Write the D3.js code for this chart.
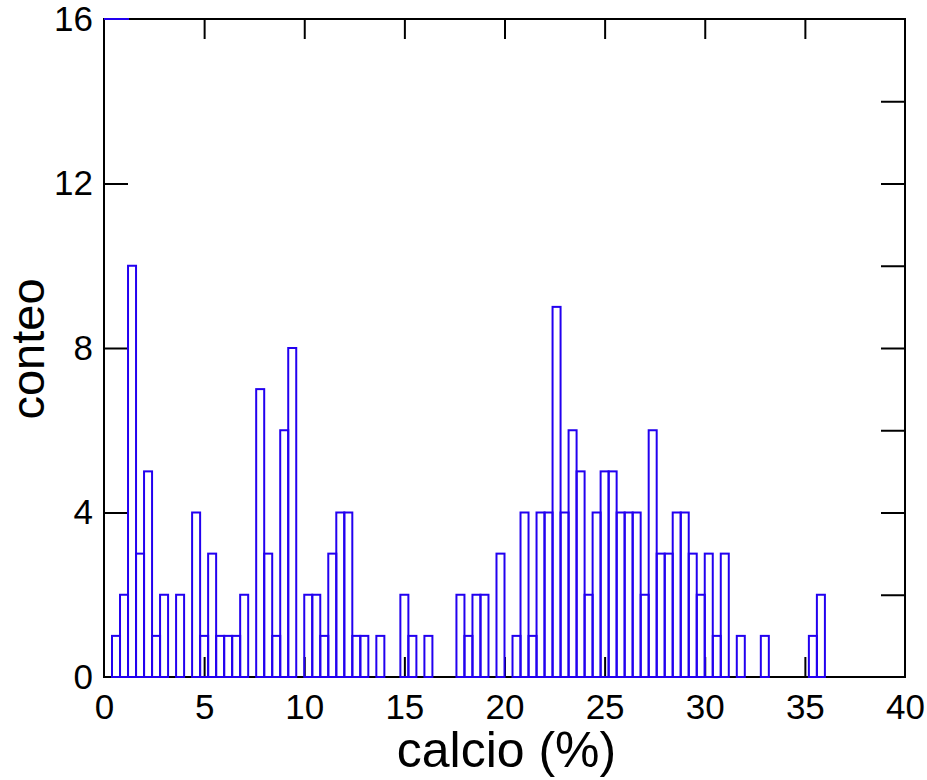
<!DOCTYPE html>
<html>
<head>
<meta charset="utf-8">
<script src="https://cdn.jsdelivr.net/npm/d3@7/dist/d3.min.js"></script>
<style>
  html, body { margin: 0; padding: 0; background: #fff; }
  svg { display: block; }
  text { font-family: "Liberation Sans", Arial, sans-serif; fill: #000; }
</style>
</head>
<body>
<svg id="chart" width="927" height="780"></svg>
<script>
// Histogram of calcium content: bins of 0.4 % from 0 to 40 %
const binWidth = 0.4;
const binStarts = d3.range(0, 100).map(i => +(i * binWidth).toFixed(1));
const counts = [
  0, 1, 2, 10, 3, 5, 1, 2, 0, 2,
  0, 4, 1, 3, 1, 1, 1, 2, 0, 7,
  3, 1, 6, 8, 0, 2, 2, 1, 3, 4,
  4, 1, 1, 0, 1, 0, 0, 2, 1, 0,
  1, 0, 0, 0, 2, 1, 2, 2, 0, 3,
  0, 1, 4, 1, 4, 4, 9, 4, 6, 5,
  2, 4, 5, 5, 4, 4, 4, 2, 6, 3,
  3, 4, 4, 3, 2, 3, 1, 3, 0, 1,
  0, 0, 1, 0, 0, 0, 0, 0, 1, 2,
  0, 0, 0, 0, 0, 0, 0, 0, 0, 0
];
const xTickValues = [0, 5, 10, 15, 20, 25, 30, 35, 40];
const yLabelValues = [0, 4, 8, 12, 16];
const yMinorValues = [2, 4, 6, 8, 10, 12, 14];
const topSegment = [0, 1.25];   // short blue stroke along the top edge

const margin = { left: 104, right: 22, top: 19, bottom: 103 };
const W = 927, H = 780;
const blue = "#2200f0";

const svg = d3.select("#chart");
const x = d3.scaleLinear().domain([0, 40]).range([margin.left, W - margin.right]);
const y = d3.scaleLinear().domain([0, 16]).range([H - margin.bottom, margin.top]);

const frame = svg.append("g");
const axisStyle = g => g.call(s => s.select(".domain").remove())
  .call(s => s.selectAll(".tick line").attr("stroke", "#000").attr("stroke-width", 2))
  .call(s => s.selectAll(".tick text").style("font-size", "35px")
    .style("font-family", '"Liberation Sans", Arial, sans-serif'));

// bottom axis: labels below, short ticks pointing inward
frame.append("g")
  .attr("transform", `translate(0,${y(0)})`)
  .call(d3.axisBottom(x).tickValues(xTickValues).tickSize(-20).tickPadding(17)
        .tickFormat(d3.format("d")))
  .call(axisStyle)
  .call(g => g.selectAll(".tick").filter(d => d === 0 || d === 40).select("line").remove());

// top axis: ticks only
frame.append("g")
  .attr("transform", `translate(0,${y(16)})`)
  .call(d3.axisTop(x).tickValues(xTickValues.filter(d => d > 0 && d < 40)).tickSize(-20).tickFormat(""))
  .call(axisStyle);

// left axis: labels at every 4
frame.append("g")
  .attr("transform", `translate(${x(0)},0)`)
  .call(d3.axisLeft(y).tickValues(yLabelValues).tickSize(-24).tickPadding(11)
        .tickFormat(d3.format("d")))
  .call(axisStyle)
  .call(g => g.selectAll(".tick").filter(d => d === 0 || d === 16).select("line").remove());

// right axis: ticks every 2
frame.append("g")
  .attr("transform", `translate(${x(40)},0)`)
  .call(d3.axisRight(y).tickValues(yMinorValues).tickSize(-24).tickFormat(""))
  .call(axisStyle);

// plot frame
frame.append("rect")
  .attr("x", x(0)).attr("y", y(16))
  .attr("width", x(40) - x(0)).attr("height", y(0) - y(16))
  .attr("fill", "none").attr("stroke", "#000").attr("stroke-width", 2);

// histogram bars (outlines)
const bins = binStarts.map((s, i) => ({ x0: s, x1: s + binWidth, n: counts[i] }));
svg.append("g").selectAll("rect")
  .data(bins)
  .join("rect")
  .attr("x", d => x(d.x0))
  .attr("y", d => y(d.n))
  .attr("width", d => x(d.x1) - x(d.x0))
  .attr("height", d => y(0) - y(d.n))
  .attr("fill", "none")
  .attr("stroke", blue)
  .attr("stroke-width", 2);

svg.append("line")
  .attr("x1", x(topSegment[0])).attr("x2", x(topSegment[1]))
  .attr("y1", y(16)).attr("y2", y(16))
  .attr("stroke", blue).attr("stroke-width", 2);

// axis titles
svg.append("text")
  .attr("x", (x(0) + x(40)) / 2 + 2)
  .attr("y", 767)
  .attr("text-anchor", "middle")
  .style("font-size", "50px")
  .text("calcio (%)");

svg.append("text")
  .attr("transform", `translate(44,${(y(0) + y(16)) / 2 + 1}) rotate(-90)`)
  .attr("text-anchor", "middle")
  .style("font-size", "47px")
  .text("conteo");
</script>
</body>
</html>
